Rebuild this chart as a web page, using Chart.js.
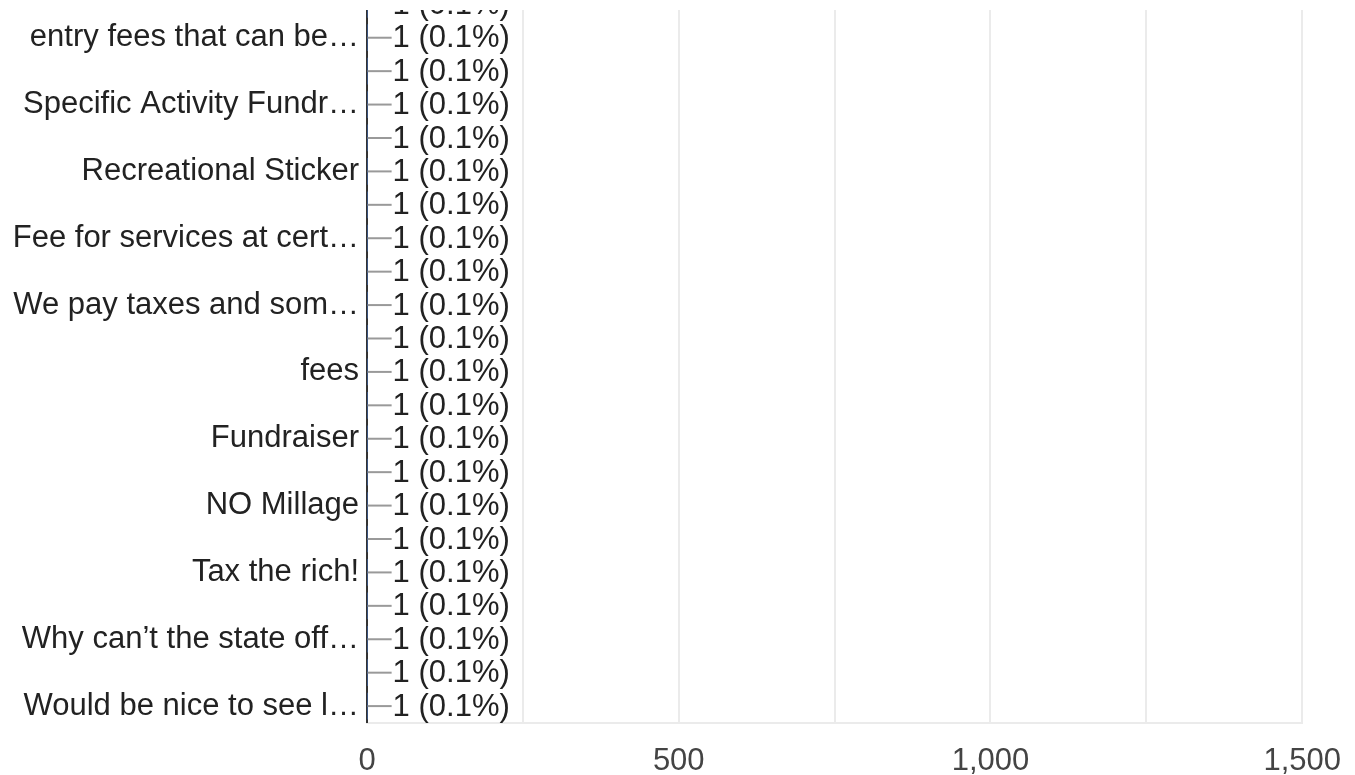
<!DOCTYPE html>
<html>
<head>
<meta charset="utf-8">
<script src="https://cdn.jsdelivr.net/npm/chart.js@4"></script>
<style>
  html, body { margin: 0; padding: 0; background: #fff; }
  #clip { position: absolute; left: 0; top: 10px; width: 1355px; height: 765px; overflow: hidden; }
  #chart { position: absolute; left: 0; top: -41px; }
</style>
</head>
<body>
<div id="clip"><canvas id="chart" width="1361" height="831"></canvas></div>
<script>
// ---- data (bottom part of a long list, every other label hidden) ----
const categories = [
  "", "entry fees that can be…", "", "Specific Activity Fundr…", "", "Recreational Sticker",
  "", "Fee for services at cert…", "", "We pay taxes and som…", "", "fees",
  "", "Fundraiser", "", "NO Millage", "", "Tax the rich!",
  "", "Why can’t the state off…", "", "Would be nice to see l…"
];
const counts = [1, 1, 1, 1, 1, 1, 1, 1, 1, 1, 1, 1, 1, 1, 1, 1, 1, 1, 1, 1, 1, 1];
const percents = ["0.1%", "0.1%", "0.1%", "0.1%", "0.1%", "0.1%", "0.1%", "0.1%", "0.1%", "0.1%", "0.1%",
  "0.1%", "0.1%", "0.1%", "0.1%", "0.1%", "0.1%", "0.1%", "0.1%", "0.1%", "0.1%", "0.1%"];
const xTicks = [0, 250, 500, 750, 1000, 1250, 1500];

const FONT = "'Liberation Sans', Arial, sans-serif";

// stem + "n (p%)" annotation next to each bar
const stemLabels = {
  id: 'stemLabels',
  afterDatasetsDraw(chart) {
    const ctx = chart.ctx;
    const meta = chart.getDatasetMeta(0);
    ctx.save();
    ctx.font = "31px " + FONT;
    ctx.textBaseline = 'middle';
    ctx.textAlign = 'left';
    meta.data.forEach((bar, i) => {
      const x0 = bar.x, y = bar.y;
      ctx.strokeStyle = '#999';
      ctx.lineWidth = 2;
      ctx.beginPath();
      ctx.moveTo(x0, y);
      ctx.lineTo(x0 + 24, y);
      ctx.stroke();
      ctx.fillStyle = '#222';
      ctx.fillText(counts[i] + ' (' + percents[i] + ')', x0 + 25, y + 1);
    });
    ctx.restore();
  }
};

new Chart(document.getElementById('chart'), {
  type: 'bar',
  data: {
    labels: categories,
    datasets: [{ data: counts, backgroundColor: '#4285f4', barPercentage: 0.8, categoryPercentage: 1 }]
  },
  options: {
    indexAxis: 'y',
    responsive: false,
    animation: false,
    layout: { padding: 0 },
    plugins: { legend: { display: false }, tooltip: { enabled: false } },
    scales: {
      x: {
        min: 0, max: 1500,
        afterBuildTicks: s => { s.ticks = xTicks.map(v => ({ value: v })); },
        grid: { color: '#ebebeb', lineWidth: 2, drawTicks: false },
        border: { color: '#ebebeb', width: 2 },
        ticks: {
          padding: 20, color: '#444', font: { family: FONT, size: 31 },
          callback: v => (v % 500 === 0 ? v.toLocaleString('en-US') : '')
        }
      },
      y: {
        afterFit: s => { s.width = 367; },
        grid: { display: false },
        border: { color: '#333', width: 2 },
        ticks: { autoSkip: false, padding: 0, color: '#222', font: { family: FONT, size: 31 } }
      }
    }
  },
  plugins: [stemLabels]
});
</script>
</body>
</html>
